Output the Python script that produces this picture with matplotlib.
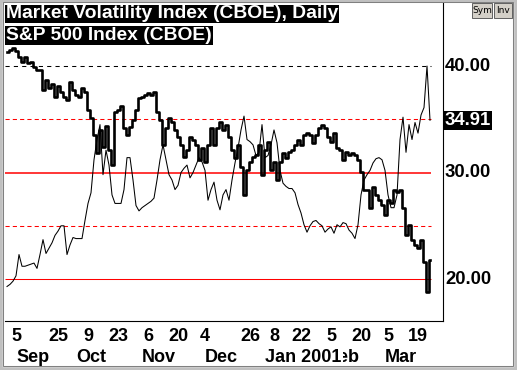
import matplotlib
matplotlib.use("Agg")
import matplotlib.pyplot as plt
import matplotlib.transforms as mtransforms
from matplotlib.patches import Rectangle
import numpy as np
import pandas as pd

plt.rcParams['font.family'] = ['Liberation Sans', 'DejaVu Sans']

W, H = 517, 370

# trading days shown on the chart
holidays = ['2000-09-04', '2000-11-23', '2000-12-25', '2001-01-01',
            '2001-01-15', '2001-02-19']
days = pd.bdate_range('2000-08-30', '2001-03-23')
days = days[~days.isin(pd.to_datetime(holidays))]

# Market Volatility Index, daily close
vix = [19.3, 19.5, 19.8,
       20.3, 22.3, 21.2, 21.2, 21.3, 21.4, 21.5, 21.0, 22.3, 23.7,
       22.4, 22.9, 23.4, 24.1, 24.5, 25.0, 25.0, 22.3, 23.2, 23.9,
       23.8, 23.8, 23.8, 25.5, 27.1, 28.1, 31.2, 33.1, 34.5, 29.8,
       32.1, 30.7, 27.9, 27.1, 27.1, 27.1, 28.4, 31.4, 31.4, 29.3,
       26.9, 26.4, 26.7, 26.9, 27.1, 27.3, 27.6, 29.3, 31.2, 32.6,
       31.2, 29.8, 29.3, 28.4, 28.8, 30.0, 30.4, 30.7, 29.5, 30.0,
       30.7, 31.4, 31.0, 30.2, 27.4, 28.4, 29.1, 27.4, 26.5, 27.9,
       28.4, 27.4, 29.3, 30.9, 32.3, 34.0, 35.3, 33.1, 32.9, 32.6,
       31.6, 31.9, 34.5, 31.4, 31.6, 32.6, 34.0, 32.8, 30.2, 29.0,
       28.7, 28.5, 28.5, 28.1, 27.0, 26.2, 25.1, 24.4, 25.0, 25.4,
       25.5, 25.2, 25.0, 24.4, 24.7, 24.9, 24.3, 25.1, 24.9, 25.3,
       25.2, 24.6, 24.3, 23.8, 25.1, 27.9, 29.3, 29.8, 30.2, 30.9,
       31.3, 31.4, 31.2, 30.2, 27.9, 26.7, 26.7, 27.9, 33.1, 35.2,
       31.9, 34.5, 33.1, 34.7, 33.7, 35.4, 36.1, 40.0, 34.91]

# S&P 500 Index, daily close
spx = [1516.7, 1520.0, 1523.3,
       1518.4, 1508.5, 1500.2, 1508.5, 1498.6, 1500.2, 1492.0, 1487.0, 1487.0, 1454.0,
       1470.5, 1457.3, 1463.9, 1442.5, 1460.6, 1450.7, 1442.5, 1437.5, 1467.2, 1454.0,
       1445.8, 1442.5, 1457.3, 1450.7, 1421.0, 1407.8, 1379.8, 1350.1, 1388.0, 1360.0,
       1394.6, 1355.0, 1330.3, 1417.7, 1421.0, 1427.6, 1391.3, 1379.8, 1393.0, 1404.5,
       1421.0, 1440.8, 1442.5, 1445.8, 1449.1, 1445.8, 1450.7, 1417.7, 1404.5, 1363.3,
       1391.3, 1407.8, 1401.2, 1388.0, 1376.5, 1363.3, 1343.5, 1355.0, 1376.5, 1371.5,
       1363.3, 1338.5, 1358.3, 1335.2, 1363.3, 1391.3, 1363.3, 1391.3, 1401.2, 1388.0,
       1396.3, 1376.5, 1355.0, 1341.8, 1363.3, 1326.9, 1280.8, 1322.0, 1335.2, 1343.5,
       1346.8, 1363.3, 1313.8, 1355.0, 1368.2, 1322.0, 1335.2, 1305.5, 1335.2, 1350.1,
       1341.8, 1351.7, 1355.0, 1363.3, 1371.5, 1363.3, 1379.8, 1383.1, 1379.8, 1366.6,
       1379.8, 1391.3, 1396.3, 1391.3, 1376.5, 1368.2, 1383.1, 1358.3, 1355.0, 1338.5,
       1351.7, 1346.8, 1350.1, 1346.8, 1338.5, 1318.7, 1289.0, 1289.0, 1259.3, 1294.0,
       1280.8, 1272.5, 1264.3, 1247.8, 1272.5, 1267.6, 1289.0, 1285.7, 1289.0, 1259.3,
       1214.8, 1231.3, 1206.5, 1198.3, 1193.3, 1206.5, 1170.2, 1120.7, 1173.5]

levels = [40, 35, 30, 25, 20]
right_labels = ['40.00', '30.00', '20.00']
right_values = [40, 30, 20]

tick_dates = ['2000-09-05', '2000-09-25', '2000-10-09', '2000-10-23', '2000-11-06',
              '2000-11-20', '2000-12-04', '2000-12-26', '2001-01-08', '2001-01-22',
              '2001-02-05', '2001-02-20', '2001-03-05', '2001-03-19']
tick_labels = ['5', '25', '9', '23', '6', '20', '4', '26', '8', '22', '5', '20', '5', '19']
month_starts = ['2000-09-01', '2000-10-02', '2000-11-01', '2000-12-01',
                '2001-02-01', '2001-01-02', '2001-03-01']
month_labels = ['Sep', 'Oct', 'Nov', 'Dec', 'Feb', 'Jan 2001', 'Mar']

titles = ['Market Volatility Index (CBOE), Daily', 'S&P 500 Index (CBOE)']

assert len(vix) == len(days) and len(spx) == len(days)
x = np.arange(len(days))

fig = plt.figure(figsize=(W / 100, H / 100), dpi=100)
fig.patch.set_facecolor('white')
ax = fig.add_axes([5 / W, 49 / H, 438 / W, 318 / H])
ax.set_xlim(-0.667, 145.33)
ax.set_ylim(16.06, 45.92)
for s in ['top', 'left']:
    ax.spines[s].set_visible(False)
for s in ['bottom', 'right']:
    ax.spines[s].set_linewidth(0.8)
    ax.spines[s].set_color('black')
ax.set_yticks([])

end = x[-1] + 0.3
ax.hlines(levels[0], ax.get_xlim()[0], end, colors='black', linestyles=(0, (4, 4)), lw=0.75, zorder=1)
ax.hlines(levels[1], ax.get_xlim()[0], end, colors='red', linestyles=(0, (4, 3)), lw=0.75, zorder=1)
ax.hlines(levels[2], ax.get_xlim()[0], end, colors='red', lw=1.1, zorder=1)
ax.hlines(levels[3], ax.get_xlim()[0], end, colors='red', linestyles=(0, (4, 3)), lw=0.75, zorder=1)
ax.hlines(levels[4], ax.get_xlim()[0], end, colors='red', lw=0.75, zorder=1)

ax.plot(x, vix, color='black', lw=0.75, zorder=3)

ax2 = ax.twinx()
ax2.set_ylim(1072.85, 1597.55)
ax2.set_axis_off()
ax2.plot(x, spx, color='black', lw=1.9, drawstyle='steps-mid', zorder=3)

# bottom date axis
ticks = days.get_indexer(pd.to_datetime(tick_dates))
ax.set_xticks(ticks, tick_labels, fontsize=13, fontweight='bold')
ax.tick_params(axis='x', length=0, pad=5)

blend = mtransforms.blended_transform_factory(ax.transData, fig.transFigure)
shift = mtransforms.ScaledTranslation(3 / 100, 0, fig.dpi_scale_trans)
mpos = days.get_indexer(pd.to_datetime(month_starts))
for k, (p, lab) in enumerate(zip(mpos, month_labels)):
    ax.text(p, 1 - 362 / H, lab, transform=blend + shift, ha='left', va='baseline',
            fontsize=13, fontweight='bold', zorder=5 + k,
            bbox=dict(facecolor='white', edgecolor='none', pad=1))

# right value labels
rblend = mtransforms.blended_transform_factory(ax.transAxes, ax.transData)
for v, lab in zip(right_values, right_labels):
    ax.text(1 + 2 / 438, v, lab, transform=rblend, ha='left', va='center',
            fontsize=13.3, fontweight='bold')
ax.text(1 + 2 / 438, vix[-1], f'{vix[-1]:.2f}', transform=rblend, ha='left', va='center',
        fontsize=13.3, fontweight='bold', color='white',
        bbox=dict(facecolor='black', edgecolor='none', pad=0.8))

# titles
for k, t in enumerate(titles):
    fig.text(6 / W, 1 - (5.5 + 21.5 * k) / H, t, ha='left', va='top', color='white',
             fontsize=13.9, fontweight='bold',
             bbox=dict(facecolor='black', edgecolor='none', pad=0.5))

# Sym / Inv buttons
for lab, x0, w in [('Sym', 472, 20), ('Inv', 494, 18)]:
    fig.patches.append(Rectangle((x0 / W, 1 - 18 / H), w / W, 15 / H, transform=fig.transFigure,
                                 facecolor='#d4d0c8', edgecolor='#606060', lw=0.7))
    fig.text((x0 + w / 2) / W, 1 - 10.5 / H, lab, ha='center', va='center', fontsize=6.5,
             family='DejaVu Sans')

# window frame
fig.patches.append(Rectangle((0, 0), 1, 1, transform=fig.transFigure, fill=False,
                             edgecolor='#c0c0c0', lw=4))
fig.patches.append(Rectangle((3 / W, 4 / H), 1 - 7 / W, 1 - 6 / H, transform=fig.transFigure,
                             fill=False, edgecolor='#808080', lw=0.75))

fig.savefig('out.png', dpi=100)
